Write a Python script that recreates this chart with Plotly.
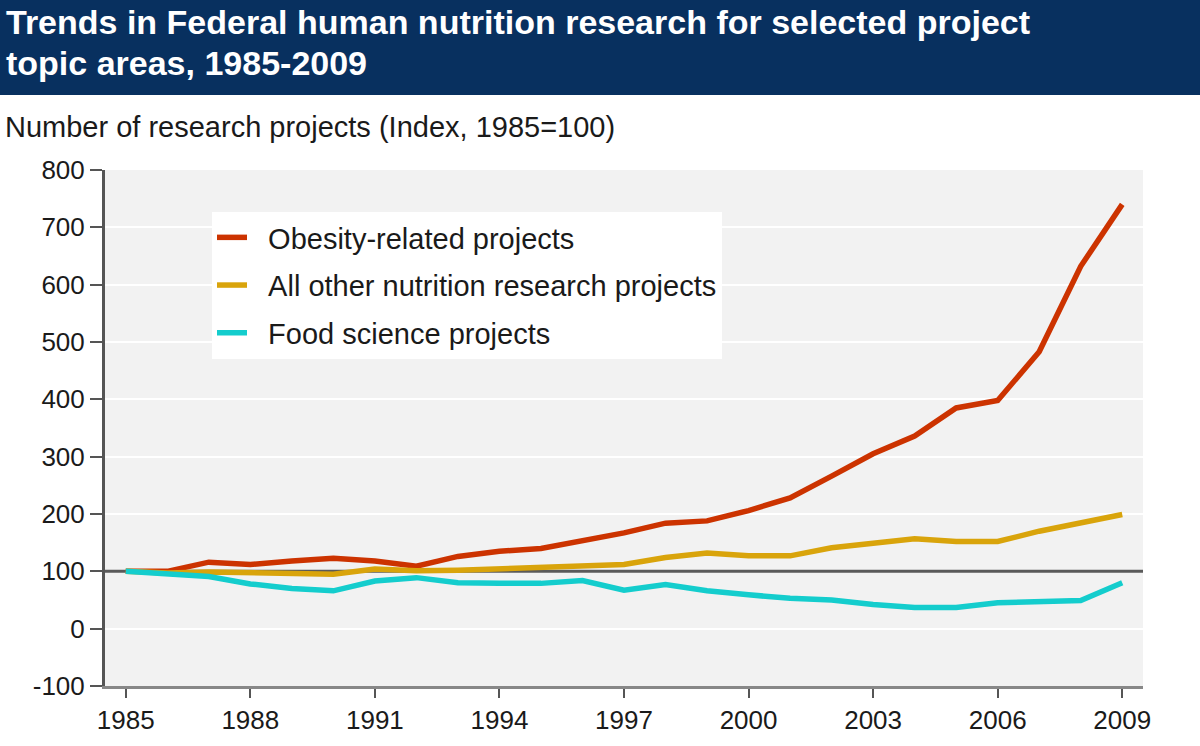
import plotly.graph_objects as go

# values (index, 1985 = 100)
years = list(range(1985, 2010))
obesity = [100, 100, 116, 112, 118, 123, 118, 109, 126, 135, 140, 153, 167,
           184, 188, 206, 228, 266, 305, 336, 385, 398, 483, 632, 740]
other_nutrition = [100, 97, 99, 98, 95, 95, 104, 101, 102, 104, 107, 110, 112,
                   124, 132, 127, 127, 141, 150, 157, 152, 152, 170, 185, 199]
food_science = [100, 95, 91, 78, 70, 66, 83, 89, 80, 79, 79, 84, 67,
                77, 66, 59, 53, 50, 42, 37, 37, 45, 47, 49, 80]

series_names = ["Obesity-related projects",
                "All other nutrition research projects",
                "Food science projects"]
series_colors = ["#cc3300", "#d9a40b", "#14cdcd"]
x_ticks = [1985, 1988, 1991, 1994, 1997, 2000, 2003, 2006, 2009]
y_ticks = [-100, 0, 100, 200, 300, 400, 500, 600, 700, 800]
y_labels = ["-100", "0", "100", "200", "300", "400", "500", "600", "700", "800"]
grid_vals = [0, 200, 300, 400, 500, 600, 700, 800]
title_lines = ["Trends in Federal human nutrition research for selected project",
               "topic areas, 1985-2009"]

FONT = "Liberation Sans, Arial, sans-serif"

# plot area in pixels
L, R, T, B = 105, 57, 170, 60
W, H = 1200, 746
pw, ph = W - L - R, H - T - B

fig = go.Figure()

for i, (name, vals) in enumerate(zip(series_names, [obesity, other_nutrition, food_science])):
    fig.add_trace(go.Scatter(
        x=years, y=vals, mode="lines", name="&nbsp;&nbsp;" + name,
        legendgroup=str(i),
        line=dict(color=series_colors[i], width=5.5),
    ))

# dark reference line at index 100
fig.add_shape(type="line", xref="paper", yref="y", x0=0, x1=1, y0=100, y1=100,
              line=dict(color="#5a5a5a", width=3), layer="below")

# navy title band across the top
fig.add_shape(type="rect", xref="paper", yref="paper",
              x0=-L / pw, x1=1 + R / pw, y0=1 + (T - 95) / ph, y1=1 + T / ph,
              fillcolor="#08305f", line=dict(width=0), layer="below")

for line_text, y_px in zip(title_lines, [22, 63]):
    fig.add_annotation(
        text="<b>" + line_text + "</b>",
        xref="paper", yref="paper", x=(4 - L) / pw, y=1 + (T - y_px) / ph,
        xanchor="left", yanchor="middle", align="left", showarrow=False,
        font=dict(family=FONT, size=34, color="white"))

fig.add_annotation(
    text="Number of research projects (Index, 1985=100)",
    xref="paper", yref="paper", x=(3 - L) / pw, y=1 + (T - 127) / ph,
    xanchor="left", yanchor="middle", showarrow=False,
    font=dict(family=FONT, size=29, color="#1a1a1a"))

fig.update_layout(
    width=W, height=H,
    margin=dict(l=L, r=R, t=T, b=B, autoexpand=False),
    paper_bgcolor="white",
    plot_bgcolor="#f2f2f2",
    font=dict(family=FONT, size=26, color="#1a1a1a"),
    showlegend=True,
    legend=dict(
        x=(212 - L) / pw, y=1 - (212 - T) / ph,
        xanchor="left", yanchor="top",
        bgcolor="white", borderwidth=0,
        font=dict(family=FONT, size=29, color="#1a1a1a"),
        tracegroupgap=7,
        itemwidth=30,
    ),
)

fig.update_xaxes(
    range=[1984.5, 2009.5],
    tickvals=x_ticks,
    ticks="outside", ticklen=9, tickwidth=2, tickcolor="#555555",
    showline=True, linecolor="#888888", linewidth=3,
    showgrid=False, zeroline=False,
    tickfont=dict(size=26),
)

fig.update_yaxes(
    range=[-100, 800],
    tickvals=y_ticks, ticktext=y_labels,
    ticks="outside", ticklen=12, tickwidth=2, tickcolor="#555555",
    showline=True, linecolor="#555555", linewidth=3,
    showgrid=False, zeroline=False,
    minor=dict(tickmode="array", tickvals=grid_vals, showgrid=True,
               gridcolor="white", gridwidth=2, ticks=""),
    tickfont=dict(size=26),
)

fig.write_html("out.html", config={"displayModeBar": False},
               post_script="document.body.style.margin='0';")
